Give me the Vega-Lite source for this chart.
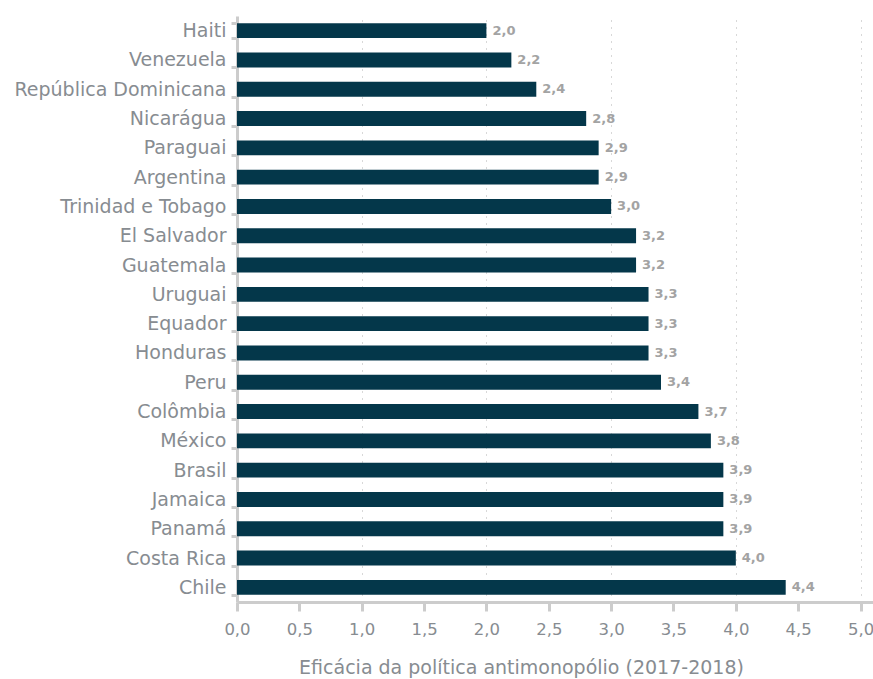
{
  "$schema": "https://vega.github.io/schema/vega-lite/v6.json",
  "width": 636,
  "height": 586,
  "autosize": {"type": "none"},
  "padding": {"left": 237, "top": 16, "right": 0, "bottom": 77},
  "background": "white",
  "config": {
    "view": {"stroke": null},
    "font": "DejaVu Sans",
    "locale": {
      "number": {"decimal": ",", "thousands": ".", "grouping": [3], "currency": ["R$", ""]}
    }
  },
  "data": {
    "values": [
      {"pais": "Haiti", "valor": 2.0},
      {"pais": "Venezuela", "valor": 2.2},
      {"pais": "República Dominicana", "valor": 2.4},
      {"pais": "Nicarágua", "valor": 2.8},
      {"pais": "Paraguai", "valor": 2.9},
      {"pais": "Argentina", "valor": 2.9},
      {"pais": "Trinidad e Tobago", "valor": 3.0},
      {"pais": "El Salvador", "valor": 3.2},
      {"pais": "Guatemala", "valor": 3.2},
      {"pais": "Uruguai", "valor": 3.3},
      {"pais": "Equador", "valor": 3.3},
      {"pais": "Honduras", "valor": 3.3},
      {"pais": "Peru", "valor": 3.4},
      {"pais": "Colômbia", "valor": 3.7},
      {"pais": "México", "valor": 3.8},
      {"pais": "Brasil", "valor": 3.9},
      {"pais": "Jamaica", "valor": 3.9},
      {"pais": "Panamá", "valor": 3.9},
      {"pais": "Costa Rica", "valor": 4.0},
      {"pais": "Chile", "valor": 4.4}
    ]
  },
  "encoding": {
    "y": {
      "field": "pais",
      "type": "nominal",
      "sort": null,
      "scale": {"paddingInner": 0.49, "paddingOuter": 0.245},
      "axis": {
        "title": null,
        "grid": false,
        "domainColor": "#cccccc",
        "domainWidth": 3,
        "tickBand": "extent",
        "tickColor": "#cccccc",
        "tickWidth": 3,
        "tickSize": 6,
        "labelFontSize": 19,
        "labelLimit": 400,
        "labelColor": "#878c91",
        "labelPadding": 5
      }
    },
    "x": {
      "field": "valor",
      "type": "quantitative",
      "scale": {"domain": [0, 5.1], "nice": false, "zero": true},
      "axis": {
        "values": [0, 0.5, 1, 1.5, 2, 2.5, 3, 3.5, 4, 4.5, 5],
        "format": ".1f",
        "labelFontSize": 16.5,
        "labelColor": "#878c91",
        "labelPadding": 10,
        "labelDx": -3,
        "labelFlush": false,
        "domainColor": "#cccccc",
        "domainWidth": 3,
        "tickColor": "#cccccc",
        "tickWidth": 3,
        "tickSize": 9,
        "grid": true,
        "gridColor": "#b0b0b0",
        "gridWidth": 1,
        "gridDash": [1, 6],
        "gridOpacity": {"condition": {"test": "datum.value % 1 === 0 && datum.value > 0", "value": 1}, "value": 0},
        "title": "Eficácia da política antimonopólio (2017-2018)",
        "titleFontSize": 19,
        "titleFontWeight": "normal",
        "titleColor": "#878c91",
        "titleX": 284,
        "titleY": 71,
        "titleAlign": "center",
        "titleBaseline": "alphabetic"
      }
    }
  },
  "layer": [
    {"mark": {"type": "bar", "color": "#04374a"}},
    {
      "mark": {"type": "text", "align": "left", "baseline": "middle", "dx": 6, "fontWeight": "bold", "fontSize": 13, "color": "#a3a3a3"},
      "encoding": {"text": {"field": "valor", "type": "quantitative", "format": ".1f"}}
    }
  ]
}
